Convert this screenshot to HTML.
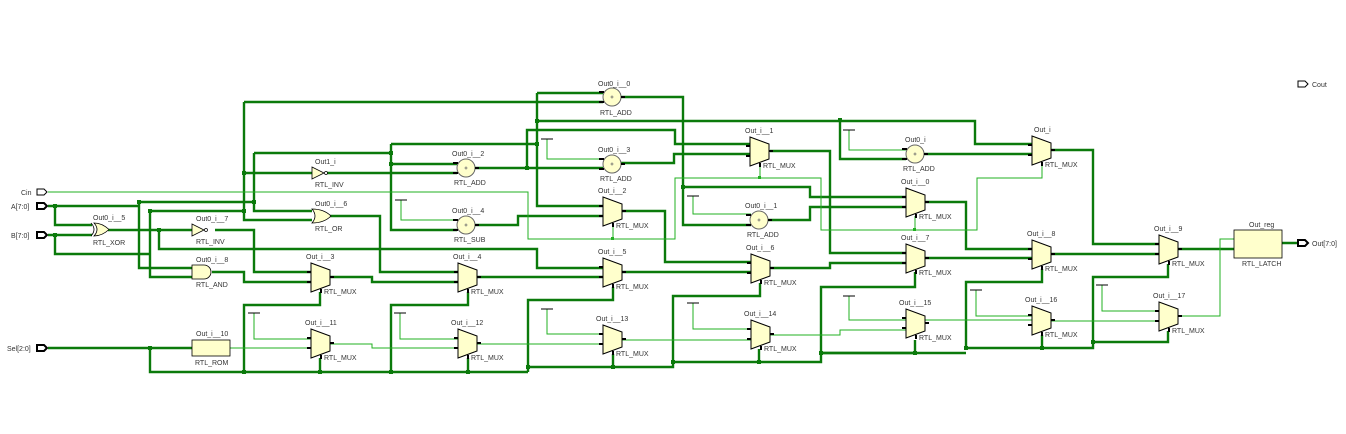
<!DOCTYPE html>
<html><head><meta charset="utf-8"><style>
html,body{margin:0;padding:0;background:#fff;}
svg{display:block;}
text{font-family:"Liberation Sans",sans-serif;font-size:7px;fill:#333;}
.d{fill:none;stroke:#0b7a0b;stroke-width:2.4;}
.l{fill:none;stroke:#22b022;stroke-width:1;}
.n{fill:#0b7a0b;}
</style></head><body>
<svg width="1346" height="434" viewBox="0 0 1346 434">
<defs>
<g id="mux"><polygon points="0,0 19,7 19,22 0,29" fill="#ffffcc" stroke="#000" stroke-width="1"/>
<path d="M-4,9H0M-4,19H0M19,14H23M10,26V30" stroke="#000" stroke-width="2"/></g>
<g id="add"><circle r="9" fill="#ffffcc" stroke="#666" stroke-width="1"/>
<path d="M-13,-5H-8M-13,5H-8M9,0H13" stroke="#000" stroke-width="2"/>
<path d="M-1.5,0H1.5M0,-1.5V1.5" stroke="#666" stroke-width="0.8"/></g>
<g id="tee"><path d="M-6,0H6" stroke="#000" stroke-width="1"/></g>
</defs>

<!-- dark wires -->
<g class="d">
<path d="M48,206H139M55,206V225H92M48,235H92M55,235V254H150"/>
<path d="M139,202V268H192M139,202H254M150,211V277H192M150,211H244"/>
<path d="M108,230H192M159,230V249H537V268H603"/>
<path d="M215,230H254V272H311M212,272H244V282H311"/>
<path d="M244,102V220H312M244,173H312M244,102H603"/>
<path d="M254,153V211H312M254,153H391M391,144V230H457M391,164H457M391,144H537"/>
<path d="M537,93H603M537,93V206H603M537,121H975V144H1032M840,120V159H906"/>
<path d="M326,173H457M475,168H603M527,168V130H675V144H750M621,163H674V154H750"/>
<path d="M330,216H380V272H458M330,277H372V282H458"/>
<path d="M475,225H518V216H603M621,211H665V262H751M621,272H751M477,277H603"/>
<path d="M621,97H683V225H751M683,187H810V197H906M768,220H810V207H906"/>
<path d="M770,151H830V253H906M770,268H830V263H906"/>
<path d="M925,202H966V249H1032M925,258H1032M924,154H1032"/>
<path d="M1051,150H1093V244H1159M1051,254H1159M1178,249H1234M1282,243H1298"/>
<path d="M48,348H192M150,348V372H528"/>
<path d="M320,292V305H244V372M320,358V372M468,292V305H391V372M468,358V372"/>
<path d="M613,287V300H528V372M613,354V367H528M528,367H673V296H760V283M673,362H821V287H915V272M759,362V349M821,353H915V340"/>
<path d="M1042,269V282H966V348M1042,335V348M820,353H966M966,348H1093V277H1168V264M1093,342H1168V331"/>
</g>
<g class="n">
<rect x="53" y="204" width="4" height="4"/><rect x="53" y="233" width="4" height="4"/>
<rect x="137" y="200" width="4" height="4"/><rect x="148" y="209" width="4" height="4"/>
<rect x="157" y="228" width="4" height="4"/><rect x="148" y="346" width="4" height="4"/>
<rect x="242" y="171" width="4" height="4"/><rect x="242" y="209" width="4" height="4"/>
<rect x="252" y="200" width="4" height="4"/><rect x="389" y="151" width="4" height="4"/>
<rect x="389" y="162" width="4" height="4"/><rect x="535" y="119" width="4" height="4"/>
<rect x="535" y="142" width="4" height="4"/><rect x="525" y="166" width="4" height="4"/>
<rect x="681" y="185" width="4" height="4"/><rect x="838" y="118" width="4" height="4"/>
<rect x="242" y="370" width="4" height="4"/><rect x="318" y="370" width="4" height="4"/>
<rect x="389" y="370" width="4" height="4"/><rect x="466" y="370" width="4" height="4"/>
<rect x="526" y="365" width="4" height="4"/><rect x="611" y="365" width="4" height="4"/>
<rect x="671" y="360" width="4" height="4"/><rect x="757" y="360" width="4" height="4"/>
<rect x="819" y="351" width="4" height="4"/><rect x="913" y="351" width="4" height="4"/>
<rect x="964" y="346" width="4" height="4"/><rect x="1040" y="346" width="4" height="4"/>
<rect x="1091" y="340" width="4" height="4"/>
</g>

<!-- light wires -->
<g class="l">
<path d="M48,192H528V239H675V178H821V230H977V178H1042V163"/>
<path d="M613,225V239M760,165V178M915,216V230"/>
<path d="M230,348H311M254,313V339H311M330,344H372V348H458M400,313V339H458M477,344H603"/>
<path d="M547,309V334H603M621,340H751M693,303V329H751M770,335H840V330H906M849,296V320H906M925,320H1032M976,290V316H1032M1051,321H1159M1102,285V311H1159M1178,316H1220V239H1234"/>
<path d="M547,139V159H603M693,196V214H751M849,130V150H906M401,200V220H457"/>
</g>
<g fill="#22b022"><rect x="611" y="237" width="3" height="3"/><rect x="758" y="176" width="3" height="3"/><rect x="913" y="228" width="3" height="3"/></g>

<!-- tees -->
<use href="#tee" x="254" y="313"/><use href="#tee" x="400" y="313"/><use href="#tee" x="547" y="309"/>
<use href="#tee" x="693" y="303"/><use href="#tee" x="849" y="296"/><use href="#tee" x="976" y="290"/>
<use href="#tee" x="1102" y="285"/><use href="#tee" x="547" y="139"/><use href="#tee" x="693" y="196"/>
<use href="#tee" x="849" y="130"/><use href="#tee" x="401" y="200"/>

<!-- muxes -->
<use href="#mux" x="750" y="137"/><use href="#mux" x="1032" y="136"/><use href="#mux" x="603" y="197"/>
<use href="#mux" x="906" y="188"/><use href="#mux" x="603" y="258"/><use href="#mux" x="751" y="254"/>
<use href="#mux" x="906" y="244"/><use href="#mux" x="1032" y="240"/><use href="#mux" x="1159" y="235"/>
<use href="#mux" x="311" y="263"/><use href="#mux" x="458" y="263"/><use href="#mux" x="311" y="329"/>
<use href="#mux" x="458" y="329"/><use href="#mux" x="603" y="325"/><use href="#mux" x="751" y="320"/>
<use href="#mux" x="906" y="309"/><use href="#mux" x="1032" y="306"/><use href="#mux" x="1159" y="302"/>
<g>
<text x="745" y="133">Out_i__1</text><text x="763" y="168">RTL_MUX</text>
<text x="1034" y="132">Out_i</text><text x="1045" y="167">RTL_MUX</text>
<text x="598" y="193">Out_i__2</text><text x="616" y="228">RTL_MUX</text>
<text x="901" y="184">Out_i__0</text><text x="919" y="219">RTL_MUX</text>
<text x="598" y="254">Out_i__5</text><text x="616" y="289">RTL_MUX</text>
<text x="746" y="250">Out_i__6</text><text x="764" y="285">RTL_MUX</text>
<text x="901" y="240">Out_i__7</text><text x="919" y="275">RTL_MUX</text>
<text x="1027" y="236">Out_i__8</text><text x="1045" y="271">RTL_MUX</text>
<text x="1154" y="231">Out_i__9</text><text x="1172" y="266">RTL_MUX</text>
<text x="306" y="259">Out_i__3</text><text x="324" y="294">RTL_MUX</text>
<text x="453" y="259">Out_i__4</text><text x="471" y="294">RTL_MUX</text>
<text x="305" y="325">Out_i__11</text><text x="324" y="360">RTL_MUX</text>
<text x="451" y="325">Out_i__12</text><text x="471" y="360">RTL_MUX</text>
<text x="596" y="321">Out_i__13</text><text x="616" y="356">RTL_MUX</text>
<text x="744" y="316">Out_i__14</text><text x="764" y="351">RTL_MUX</text>
<text x="899" y="305">Out_i__15</text><text x="919" y="340">RTL_MUX</text>
<text x="1025" y="302">Out_i__16</text><text x="1045" y="337">RTL_MUX</text>
<text x="1153" y="298">Out_i__17</text><text x="1172" y="333">RTL_MUX</text>
</g>

<!-- adders -->
<use href="#add" x="612" y="97"/><use href="#add" x="612" y="164"/><use href="#add" x="466" y="168"/>
<use href="#add" x="466" y="225"/><use href="#add" x="759" y="220"/><use href="#add" x="915" y="154"/>
<text x="598" y="86">Out0_i__0</text><text x="600" y="115">RTL_ADD</text>
<text x="598" y="152">Out0_i__3</text><text x="600" y="181">RTL_ADD</text>
<text x="452" y="156">Out0_i__2</text><text x="454" y="185">RTL_ADD</text>
<text x="452" y="213">Out0_i__4</text><text x="454" y="242">RTL_SUB</text>
<text x="745" y="208">Out0_i__1</text><text x="747" y="237">RTL_ADD</text>
<text x="905" y="142">Out0_i</text><text x="903" y="171">RTL_ADD</text>

<!-- gates -->
<polygon points="312,167 324,173 312,179" fill="#ffffcc" stroke="#000" stroke-width="0.8"/><circle cx="326" cy="173" r="1.5" fill="#fff" stroke="#000" stroke-width="0.7"/>
<text x="315" y="164">Out1_i</text><text x="315" y="187">RTL_INV</text>
<polygon points="192,224 204,230 192,236" fill="#ffffcc" stroke="#000" stroke-width="0.8"/><circle cx="206" cy="230" r="1.5" fill="#fff" stroke="#000" stroke-width="0.7"/>
<text x="196" y="221">Out0_i__7</text><text x="196" y="244">RTL_INV</text>
<path d="M312,209Q318,216 312,223Q324,223 331,216Q324,209 312,209Z" fill="#ffffcc" stroke="#000" stroke-width="0.8"/>
<text x="315" y="206">Out0_i__6</text><text x="315" y="231">RTL_OR</text>
<path d="M94,223Q100,229.5 94,236Q102,236 109,229.5Q102,223 94,223Z" fill="#ffffcc" stroke="#000" stroke-width="0.8"/>
<path d="M91,223Q97,229.5 91,236" fill="none" stroke="#000" stroke-width="0.8"/>
<text x="93" y="220">Out0_i__5</text><text x="93" y="245">RTL_XOR</text>
<path d="M192,265H204A7,7 0 0 1 204,279H192Z" fill="#ffffcc" stroke="#000" stroke-width="0.8"/>
<text x="196" y="262">Out0_i__8</text><text x="196" y="287">RTL_AND</text>
<rect x="192" y="340" width="38" height="16" fill="#ffffcc" stroke="#000" stroke-width="0.8"/>
<text x="196" y="336">Out_i__10</text><text x="195" y="365">RTL_ROM</text>
<rect x="1234" y="230" width="48" height="28" fill="#ffffcc" stroke="#000" stroke-width="0.8"/>
<text x="1249" y="227">Out_reg</text><text x="1242" y="266">RTL_LATCH</text>

<!-- ports -->
<g fill="#fff" stroke="#000">
<path d="M37,189H44L47,192L44,195H37Z" stroke-width="1"/>
<path d="M37,203H44L47,206L44,209H37Z" stroke-width="2"/>
<path d="M37,232H44L47,235L44,238H37Z" stroke-width="2"/>
<path d="M37,345H44L47,348L44,351H37Z" stroke-width="2"/>
<path d="M1298,81H1305L1308,84L1305,87H1298Z" stroke-width="1"/>
<path d="M1298,240H1305L1308,243L1305,246H1298Z" stroke-width="2"/>
</g>
<text x="21" y="195">Cin</text><text x="11" y="209">A[7:0]</text><text x="11" y="238">B[7:0]</text>
<text x="7" y="351">Sel[2:0]</text><text x="1312" y="87">Cout</text><text x="1312" y="246">Out[7:0]</text>
</svg>
</body></html>
